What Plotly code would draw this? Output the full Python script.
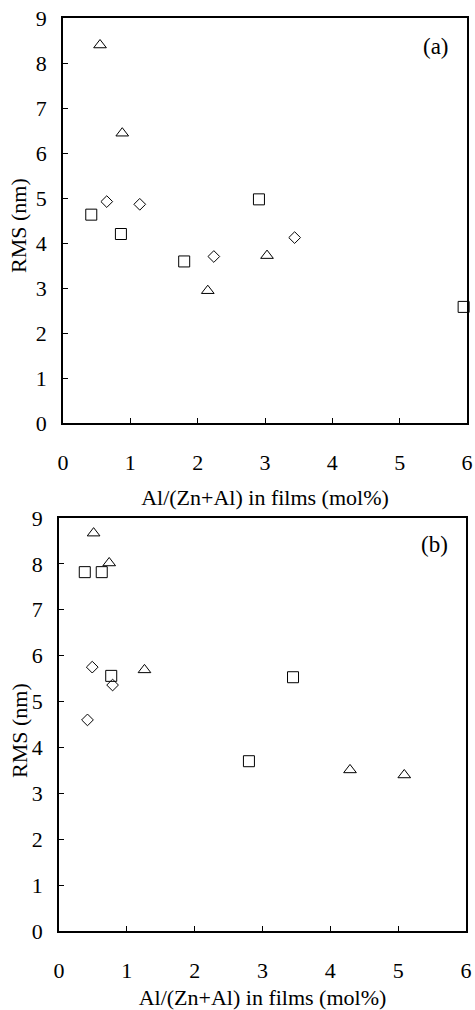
import plotly.graph_objects as go

# Panel (a)
a_sq_x = [0.42, 0.86, 1.80, 2.91, 5.95]
a_sq_y = [4.63, 4.20, 3.59, 4.97, 2.58]
a_tri_x = [0.55, 0.88, 2.15, 3.03]
a_tri_y = [8.40, 6.44, 2.94, 3.72]
a_dia_x = [0.65, 1.14, 2.24, 3.44]
a_dia_y = [4.92, 4.86, 3.70, 4.12]

# Panel (b)
b_sq_x = [0.38, 0.63, 0.77, 2.80, 3.45]
b_sq_y = [7.82, 7.82, 5.56, 3.70, 5.53]
b_tri_x = [0.51, 0.74, 1.26, 4.29, 5.09]
b_tri_y = [8.67, 8.02, 5.69, 3.51, 3.40]
b_dia_x = [0.42, 0.49, 0.79]
b_dia_y = [4.60, 5.75, 5.36]

x_ticks = [0, 1, 2, 3, 4, 5, 6]
y_ticks = [0, 1, 2, 3, 4, 5, 6, 7, 8, 9]
x_title = "Al/(Zn+Al) in films (mol%)"
y_title = "RMS (nm)"
panel_labels = ["(a)", "(b)"]

FONT = "Liberation Serif"
FS = 22
fig = go.Figure()

def add_series(xs, ys, symbol, size, xa, ya):
    fig.add_trace(go.Scatter(
        x=xs, y=ys, mode="markers", xaxis=xa, yaxis=ya, cliponaxis=False,
        marker=dict(symbol=symbol, size=size, color="black",
                    line=dict(color="black", width=1)),
        showlegend=False))

add_series(a_sq_x, a_sq_y, "square-open", 11, "x", "y")
add_series(a_tri_x, a_tri_y, "triangle-up-open", 11, "x", "y")
add_series(a_dia_x, a_dia_y, "diamond-open", 9, "x", "y")
add_series(b_sq_x, b_sq_y, "square-open", 11, "x2", "y2")
add_series(b_tri_x, b_tri_y, "triangle-up-open", 11, "x2", "y2")
add_series(b_dia_x, b_dia_y, "diamond-open", 9, "x2", "y2")

W, H = 475, 1010
def xd(l, r):
    return [l / W, r / W]
def yd(top, bottom):
    return [(H - bottom) / H, (H - top) / H]

def x_axis(dom, anchor, label_off, title_off):
    return dict(domain=dom, anchor=anchor, range=[0, 6], tickvals=x_ticks,
                ticks="inside", ticklen=5, tickcolor="black", showline=True,
                linecolor="black", linewidth=1.5, mirror=True, showgrid=False,
                zeroline=False, automargin=False, ticklabelstandoff=label_off,
                tickfont=dict(family=FONT, size=FS, color="black"),
                title=dict(text=x_title, standoff=title_off,
                           font=dict(family=FONT, size=FS, color="black")))

def y_axis(dom, anchor):
    return dict(domain=dom, anchor=anchor, range=[0, 9], tickvals=y_ticks,
                ticks="inside", ticklen=5, tickcolor="black", showline=True,
                linecolor="black", linewidth=1.5, mirror=True, showgrid=False,
                zeroline=False, automargin=False, ticklabelstandoff=10,
                tickfont=dict(family=FONT, size=FS, color="black"))

def ytitle(y_px):
    return dict(text=y_title, xref="paper", yref="paper", x=19 / W, y=(H - y_px) / H,
                xanchor="center", yanchor="middle", textangle=-90, showarrow=False,
                font=dict(family=FONT, size=FS, color="black"))

fig.update_layout(
    width=W, height=H, margin=dict(l=0, r=0, t=0, b=0),
    paper_bgcolor="white", plot_bgcolor="white",
    xaxis=x_axis(xd(63, 467), "y", 19, 15),
    yaxis=y_axis(yd(18, 423), "x"),
    xaxis2=x_axis(xd(59, 466), "y2", 19, 13),
    yaxis2=y_axis(yd(518, 931), "x2"),
    annotations=[
        ytitle(226),
        ytitle(731),
        dict(text=panel_labels[0], xref="x domain", yref="y domain", x=0.96, y=0.93,
             xanchor="right", yanchor="middle", showarrow=False,
             font=dict(family=FONT, size=23, color="black")),
        dict(text=panel_labels[1], xref="x2 domain", yref="y2 domain", x=0.96, y=0.935,
             xanchor="right", yanchor="middle", showarrow=False,
             font=dict(family=FONT, size=23, color="black")),
    ],
)

fig.write_html("out.html")
